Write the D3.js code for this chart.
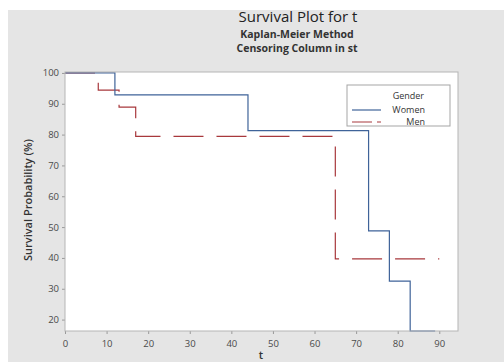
<!DOCTYPE html>
<html>
<head>
<meta charset="utf-8">
<script src="https://cdn.jsdelivr.net/npm/d3@7"></script>
<style>
  body { margin: 0; background: #fff; }
  text { font-family: "Open Sans", "DejaVu Sans", sans-serif; }
</style>
</head>
<body>
<div id="container"></div>
<script>
// Kaplan-Meier steps (time where the estimate changes, survival % after it)
var womenTimes = [0, 12, 44, 73, 78, 83];
var womenSurv = [100, 92.9, 81.3, 48.8, 32.5, 16.3];
var womenEnd = 89;

var menTimes = [0, 8, 13, 17, 65];
var menSurv = [100, 94.4, 88.9, 79.4, 39.7];
var menEnd = 90;

var xTicks = [0, 10, 20, 30, 40, 50, 60, 70, 80, 90];
var yTicks = [20, 30, 40, 50, 60, 70, 80, 90, 100];

var groups = ["Women", "Men"];

var width = 504,
    height = 362;

var plot = { left: 65, right: 458, top: 72, bottom: 331 };

var svg = d3.select("#container")
  .append("svg")
    .attr("width", width)
    .attr("height", height);

// Grey figure region
svg.append("rect")
  .attr("x", 8).attr("y", 10)
  .attr("width", width - 8).attr("height", height - 10)
  .attr("fill", "#e5e5e5");

// Plot area
svg.append("rect")
  .attr("x", plot.left).attr("y", plot.top)
  .attr("width", plot.right - plot.left).attr("height", plot.bottom - plot.top)
  .attr("fill", "#fff");

var x = d3.scaleLinear().domain([0, 94.5]).range([plot.left, plot.right]);
var y = d3.scaleLinear().domain([16.3, 100.3]).range([plot.bottom, plot.top]);

// Axes
var xAxis = svg.append("g")
  .attr("transform", "translate(0," + plot.bottom + ")")
  .call(d3.axisBottom(x).tickValues(xTicks).tickSize(3).tickSizeOuter(0));
var yAxis = svg.append("g")
  .attr("transform", "translate(" + plot.left + ",0)")
  .call(d3.axisLeft(y).tickValues(yTicks).tickSize(3).tickSizeOuter(0));

[xAxis, yAxis].forEach(function(a) {
  a.select(".domain").remove();
  a.selectAll(".tick line").attr("stroke", "#999");
  a.selectAll(".tick text")
    .attr("fill", "#4a4a4a")
    .style("font-size", "9.5px")
    .style("font-family", "'Open Sans', sans-serif");
});
xAxis.selectAll(".tick text").attr("dy", "1.05em");

// Build the step lines
function steps(times, surv, end) {
  var pts = times.map(function(t, i) { return [t, surv[i]]; });
  pts.push([end, surv[surv.length - 1]]);
  return pts;
}

var line = d3.line()
  .x(function(d) { return x(d[0]); })
  .y(function(d) { return y(d[1]); })
  .curve(d3.curveStepAfter);

svg.append("path")
  .datum(steps(menTimes, menSurv, menEnd))
  .attr("d", line)
  .attr("fill", "none")
  .attr("stroke", "#a8383c")
  .attr("stroke-width", 1.2)
  .attr("stroke-dasharray", "30,13");

svg.append("path")
  .datum(steps(womenTimes, womenSurv, womenEnd))
  .attr("d", line)
  .attr("fill", "none")
  .attr("stroke", "#3f6399")
  .attr("stroke-width", 1.2);

// Plot border
svg.append("rect")
  .attr("x", plot.left).attr("y", plot.top)
  .attr("width", plot.right - plot.left).attr("height", plot.bottom - plot.top)
  .attr("fill", "none")
  .attr("stroke", "#b5b5b5")
  .attr("stroke-width", 1);

// Titles
svg.append("text")
  .attr("x", 298).attr("y", 22)
  .attr("text-anchor", "middle")
  .style("font-size", "15px")
  .attr("fill", "#222")
  .text("Survival Plot for t");
svg.append("text")
  .attr("x", 297).attr("y", 38)
  .attr("text-anchor", "middle")
  .style("font-size", "10.5px")
  .style("font-weight", "bold")
  .attr("fill", "#333")
  .text("Kaplan-Meier Method");
svg.append("text")
  .attr("x", 297).attr("y", 52)
  .attr("text-anchor", "middle")
  .style("font-size", "10.5px")
  .style("font-weight", "bold")
  .attr("fill", "#333")
  .text("Censoring Column in st");

// Axis labels
svg.append("text")
  .attr("x", 261).attr("y", 359)
  .attr("text-anchor", "middle")
  .style("font-size", "11px")
  .style("font-weight", "600")
  .attr("fill", "#333")
  .text("t");
svg.append("text")
  .attr("transform", "translate(32,200) rotate(-90)")
  .attr("text-anchor", "middle")
  .style("font-size", "11px")
  .style("font-weight", "600")
  .attr("fill", "#333")
  .text("Survival Probability (%)");

// Legend
var legend = svg.append("g");
legend.append("rect")
  .attr("x", 347).attr("y", 85)
  .attr("width", 103).attr("height", 41)
  .attr("fill", "#fff")
  .attr("stroke", "#a5a5a5");
legend.append("text")
  .attr("x", 424).attr("y", 99)
  .attr("text-anchor", "end")
  .style("font-size", "9px")
  .attr("fill", "#333")
  .text("Gender");
var legendStyle = {
  Women: { color: "#3f6399", dash: null },
  Men: { color: "#a8383c", dash: "20,5" }
};
groups.forEach(function(g, i) {
  var ly = 110 + i * 12;
  legend.append("line")
    .attr("x1", 352).attr("x2", 381)
    .attr("y1", ly).attr("y2", ly)
    .attr("stroke", legendStyle[g].color)
    .attr("stroke-width", 1.2)
    .attr("stroke-dasharray", legendStyle[g].dash);
  legend.append("text")
    .attr("x", 425).attr("y", ly + 3)
    .attr("text-anchor", "end")
    .style("font-size", "9px")
    .attr("fill", "#333")
    .text(g);
});
</script>
</body>
</html>
